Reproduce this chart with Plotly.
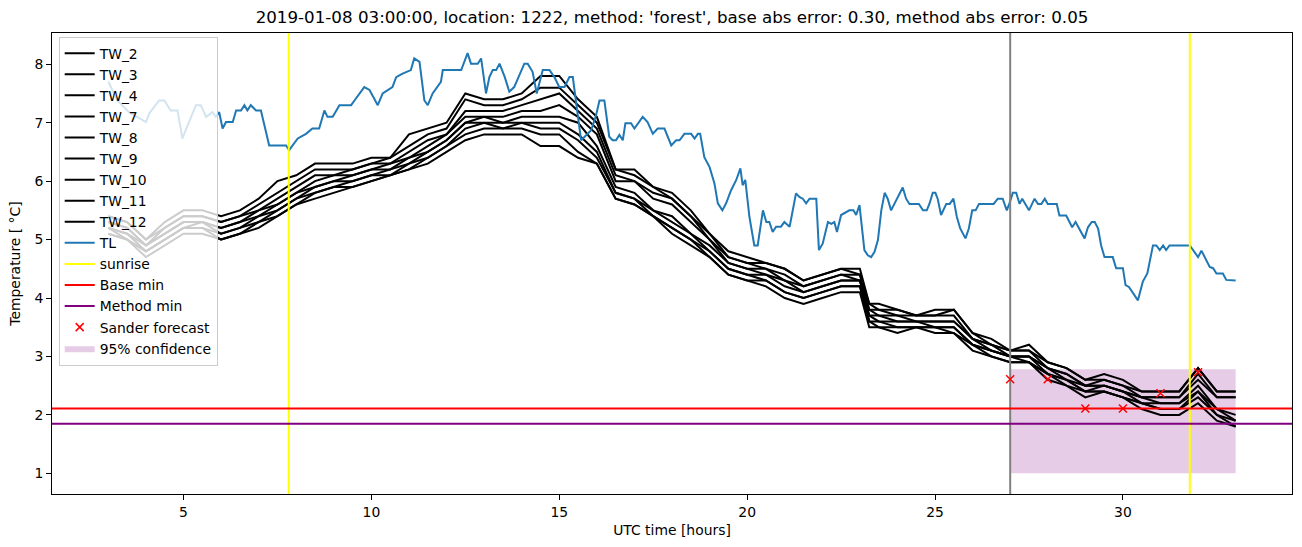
import plotly.graph_objects as go

# ---------------- data ----------------
tw_hours = [3.0, 3.5, 4.0, 4.5, 5.0, 5.5, 6.0, 6.5, 7.0, 7.5, 8.0, 8.5, 9.0, 9.5, 10.0,
            10.5, 11.0, 11.5, 12.0, 12.5, 13.0, 13.5, 14.0, 14.5, 15.0, 15.5, 16.0, 16.5,
            17.0, 17.5, 18.0, 18.5, 19.0, 19.5, 20.0, 20.5, 21.0, 21.5, 22.0, 22.5, 23.0,
            23.25, 23.5, 24.0, 24.5, 25.0, 25.5, 26.0, 26.5, 27.0, 27.5, 28.0, 28.5, 29.0, 29.5,
            30.0, 30.5, 31.0, 31.5, 32.0, 32.5, 33.0]

tw_2 = [5.4, 5.3, 5.0, 5.3, 5.5, 5.5, 5.4, 5.5, 5.7, 6.0, 6.1, 6.3, 6.3, 6.3, 6.4, 6.4, 6.8, 6.9, 7.0, 7.5,
        7.4, 7.4, 7.5, 7.8, 7.8, 7.4, 7.1, 6.2, 6.2, 5.9, 5.8, 5.5, 5.1, 4.8, 4.7, 4.6, 4.5, 4.3, 4.4, 4.5,
        4.5, 3.9, 3.9, 3.8, 3.7, 3.8, 3.8, 3.4, 3.3, 3.1, 3.2, 2.9, 2.8, 2.6, 2.7, 2.6, 2.4, 2.4, 2.4, 2.8, 2.4, 2.4]
tw_3 = [5.4, 5.3, 5.0, 5.2, 5.4, 5.4, 5.3, 5.4, 5.6, 5.8, 6.0, 6.2, 6.2, 6.2, 6.3, 6.4, 6.6, 6.8, 6.9, 7.4,
        7.3, 7.3, 7.4, 7.6, 7.6, 7.3, 7.0, 6.2, 6.1, 5.9, 5.7, 5.4, 5.1, 4.7, 4.6, 4.6, 4.5, 4.3, 4.4, 4.5,
        4.4, 3.9, 3.8, 3.8, 3.7, 3.7, 3.8, 3.4, 3.2, 3.1, 3.1, 2.9, 2.8, 2.6, 2.6, 2.5, 2.4, 2.4, 2.4, 2.8, 2.4, 2.4]
tw_4 = [5.3, 5.2, 4.9, 5.2, 5.4, 5.4, 5.3, 5.4, 5.5, 5.7, 5.9, 6.1, 6.1, 6.2, 6.3, 6.3, 6.5, 6.7, 6.8, 7.2,
        7.2, 7.2, 7.3, 7.4, 7.5, 7.2, 6.9, 6.1, 6.0, 5.8, 5.7, 5.4, 5.0, 4.7, 4.6, 4.5, 4.4, 4.2, 4.3, 4.4,
        4.4, 3.8, 3.8, 3.7, 3.7, 3.7, 3.7, 3.3, 3.2, 3.1, 3.1, 2.8, 2.7, 2.5, 2.6, 2.5, 2.3, 2.3, 2.3, 2.7, 2.3, 2.3]
tw_7 = [5.3, 5.2, 4.9, 5.1, 5.3, 5.3, 5.2, 5.3, 5.5, 5.6, 5.8, 6.0, 6.1, 6.1, 6.2, 6.3, 6.4, 6.6, 6.8, 7.1,
        7.1, 7.1, 7.2, 7.2, 7.3, 7.1, 6.8, 6.0, 6.0, 5.7, 5.6, 5.3, 5.0, 4.6, 4.5, 4.5, 4.3, 4.2, 4.3, 4.4,
        4.3, 3.8, 3.7, 3.7, 3.6, 3.6, 3.6, 3.3, 3.2, 3.0, 3.0, 2.8, 2.7, 2.5, 2.5, 2.4, 2.3, 2.3, 2.3, 2.6, 2.3, 2.3]
tw_8 = [5.2, 5.1, 4.9, 5.1, 5.3, 5.3, 5.2, 5.3, 5.4, 5.6, 5.8, 5.9, 6.0, 6.1, 6.2, 6.2, 6.4, 6.5, 6.7, 7.0,
        7.1, 7.0, 7.1, 7.1, 7.1, 7.0, 6.6, 5.9, 5.8, 5.5, 5.4, 5.1, 4.9, 4.6, 4.5, 4.4, 4.3, 4.1, 4.2, 4.3,
        4.3, 3.7, 3.7, 3.6, 3.6, 3.6, 3.6, 3.3, 3.1, 3.0, 3.0, 2.8, 2.6, 2.5, 2.5, 2.4, 2.3, 2.2, 2.2, 2.5, 2.1, 2.0]
tw_9 = [5.2, 5.1, 4.8, 5.0, 5.2, 5.3, 5.1, 5.2, 5.4, 5.5, 5.7, 5.9, 6.0, 6.0, 6.1, 6.2, 6.3, 6.5, 6.7, 7.0,
        7.0, 7.0, 7.0, 7.0, 7.0, 6.8, 6.5, 5.8, 5.7, 5.5, 5.3, 5.1, 4.8, 4.5, 4.4, 4.4, 4.2, 4.1, 4.2, 4.3,
        4.3, 3.7, 3.6, 3.6, 3.6, 3.5, 3.5, 3.2, 3.1, 3.0, 3.0, 2.7, 2.6, 2.4, 2.5, 2.4, 2.2, 2.2, 2.2, 2.4, 2.1, 1.9]
tw_10 = [5.2, 5.0, 4.8, 5.0, 5.2, 5.2, 5.1, 5.2, 5.3, 5.5, 5.7, 5.8, 5.9, 6.0, 6.1, 6.1, 6.3, 6.4, 6.6, 6.9,
         7.0, 6.9, 7.0, 6.9, 6.9, 6.7, 6.4, 5.8, 5.7, 5.4, 5.2, 5.0, 4.8, 4.5, 4.4, 4.3, 4.1, 4.0, 4.1, 4.2,
         4.2, 3.6, 3.6, 3.5, 3.5, 3.5, 3.5, 3.2, 3.1, 3.0, 2.9, 2.7, 2.6, 2.4, 2.4, 2.3, 2.2, 2.1, 2.1, 2.4, 2.0, 1.9]
tw_11 = [5.1, 5.0, 4.8, 5.0, 5.2, 5.2, 5.0, 5.1, 5.3, 5.4, 5.6, 5.8, 5.9, 5.9, 6.0, 6.1, 6.2, 6.4, 6.6, 6.8,
         6.9, 6.9, 6.9, 6.8, 6.8, 6.5, 6.3, 5.7, 5.6, 5.4, 5.2, 5.0, 4.7, 4.4, 4.3, 4.3, 4.1, 4.0, 4.1, 4.2,
         4.2, 3.6, 3.5, 3.5, 3.5, 3.5, 3.4, 3.2, 3.0, 2.9, 2.9, 2.7, 2.5, 2.4, 2.4, 2.3, 2.2, 2.1, 2.1, 2.3, 2.0, 1.8]
tw_12 = [5.1, 5.0, 4.7, 4.9, 5.1, 5.1, 5.0, 5.1, 5.2, 5.4, 5.6, 5.7, 5.8, 5.9, 6.0, 6.1, 6.2, 6.3, 6.5, 6.7,
         6.8, 6.8, 6.8, 6.6, 6.6, 6.4, 6.3, 5.7, 5.6, 5.4, 5.1, 4.9, 4.7, 4.4, 4.3, 4.2, 4.0, 3.9, 4.0, 4.1,
         4.1, 3.5, 3.5, 3.4, 3.5, 3.4, 3.4, 3.1, 3.0, 2.9, 2.9, 2.6, 2.5, 2.3, 2.4, 2.3, 2.1, 2.0, 2.0, 2.2, 1.9, 1.8]

tw_names = ["TW_2", "TW_3", "TW_4", "TW_7", "TW_8", "TW_9", "TW_10", "TW_11", "TW_12"]
tw_series = [tw_2, tw_3, tw_4, tw_7, tw_8, tw_9, tw_10, tw_11, tw_12]

tl_hours = [3.00, 3.24, 3.55, 4.00, 4.09, 4.35, 4.49, 4.66, 4.84, 4.97, 5.33, 5.46, 5.60, 5.77, 5.86,
            5.95, 6.04, 6.13, 6.31, 6.40, 6.53, 6.62, 6.70, 6.79, 6.93, 7.06, 7.28, 7.73, 7.81, 8.04,
            8.26, 8.43, 8.61, 8.75, 8.83, 8.97, 9.15, 9.46, 9.55, 9.81, 9.95, 10.17, 10.30, 10.56,
            10.66, 10.83, 11.05, 11.14, 11.28, 11.41, 11.50, 11.63, 11.85, 11.90, 12.39, 12.56, 12.65,
            12.83, 12.92, 13.05, 13.14, 13.23, 13.32, 13.41, 13.55, 13.67, 13.80, 14.07, 14.16, 14.29,
            14.40, 14.56, 14.74, 14.87, 15.00, 15.14, 15.27, 15.36, 15.58, 15.71, 15.85, 15.98, 16.07,
            16.20, 16.33, 16.42, 16.51, 16.60, 16.69, 16.76, 16.91, 17.00, 17.09, 17.22, 17.35, 17.49,
            17.62, 17.80, 17.98, 18.11, 18.20, 18.33, 18.51, 18.60, 18.69, 18.75, 18.86, 19.00, 19.13,
            19.22, 19.34, 19.44, 19.57, 19.71, 19.82, 19.88, 19.95, 20.06, 20.15, 20.19, 20.28, 20.42,
            20.51, 20.59, 20.68, 20.77, 20.90, 20.99, 21.13, 21.30, 21.39, 21.48, 21.57, 21.66, 21.84,
            21.91, 22.01, 22.15, 22.24, 22.32, 22.39, 22.50, 22.72, 22.83, 22.90, 22.99, 23.12, 23.21,
            23.30, 23.39, 23.48, 23.57, 23.66, 23.74, 23.83, 23.92, 24.14, 24.23, 24.32, 24.57, 24.68,
            24.78, 24.85, 24.94, 25.01, 25.07, 25.16, 25.30, 25.39, 25.49, 25.58, 25.67, 25.81, 25.90,
            25.99, 26.08, 26.17, 26.56, 26.67, 26.80, 26.91, 26.98, 27.07, 27.16, 27.25, 27.32, 27.50,
            27.65, 27.74, 27.83, 27.92, 28.00, 28.24, 28.31, 28.49, 28.65, 28.74, 28.98, 29.07, 29.17,
            29.25, 29.34, 29.42, 29.51, 29.73, 29.82, 30.00, 30.07, 30.16, 30.40, 30.53, 30.65, 30.80,
            30.89, 30.98, 31.07, 31.15, 31.24, 31.78, 32.00, 32.09, 32.31, 32.40, 32.49, 32.66, 32.75,
            32.93, 33.00]
tl_values = [7.70, 7.38, 7.18, 7.01, 7.16, 7.38, 7.38, 7.21, 7.21, 6.73, 7.30, 7.30, 7.10, 7.18, 7.10,
             7.18, 6.90, 7.01, 7.01, 7.21, 7.21, 7.30, 7.21, 7.30, 7.21, 7.21, 6.61, 6.61, 6.53, 6.73,
             6.81, 6.90, 6.90, 7.21, 7.10, 7.10, 7.30, 7.30, 7.38, 7.61, 7.56, 7.30, 7.50, 7.61,
             7.78, 7.84, 7.90, 8.10, 8.04, 7.38, 7.30, 7.50, 7.70, 7.90, 7.90, 8.19, 8.01,
             8.01, 8.10, 7.50, 7.78, 7.90, 7.90, 8.01, 7.78, 7.53, 7.61, 8.01, 8.01, 7.87,
             7.50, 7.90, 7.90, 7.78, 7.61, 7.61, 7.78, 7.78, 6.70, 6.79, 6.87, 7.13, 7.38,
             7.38, 6.76, 6.70, 6.70, 6.79, 6.70, 6.99, 6.99, 6.90, 6.99, 7.10, 7.01, 6.81,
             6.90, 6.90, 6.61, 6.70, 6.70, 6.81, 6.81, 6.73, 6.81, 6.81, 6.41, 6.24, 5.96,
             5.62, 5.50, 5.62, 5.84, 6.02, 6.22, 5.93, 6.02, 5.39, 5.05, 4.90, 4.90, 5.50,
             5.30, 5.30, 5.13, 5.22, 5.22, 5.30, 5.22, 5.79, 5.73, 5.70, 5.62, 5.70, 5.70,
             4.82, 4.93, 5.30, 5.27, 5.30, 5.13, 5.42, 5.50, 5.50, 5.42, 5.59, 4.82, 4.73,
             4.70, 4.79, 4.99, 5.50, 5.80, 5.70, 5.50, 5.62, 5.89, 5.70, 5.61, 5.61, 5.50,
             5.50, 5.61, 5.80, 5.80, 5.70, 5.42, 5.61, 5.61, 5.70, 5.39, 5.19, 5.02, 5.19,
             5.50, 5.50, 5.61, 5.61, 5.70, 5.70, 5.50, 5.62, 5.80, 5.80, 5.61, 5.70, 5.50,
             5.70, 5.61, 5.61, 5.70, 5.61, 5.61, 5.41, 5.41, 5.21, 5.30, 5.02, 5.21, 5.30,
             5.30, 5.19, 4.90, 4.70, 4.70, 4.51, 4.51, 4.22, 4.19, 3.96, 4.28, 4.42, 4.90,
             4.90, 4.82, 4.90, 4.82, 4.90, 4.90, 4.70, 4.81, 4.53, 4.51, 4.42, 4.42, 4.31,
             4.31, 4.30]

sunrise_hours = [7.8, 31.78]
forecast_start_hour = 27.0
base_min = 2.11
method_min = 1.85
sander_hours = [27, 28, 29, 30, 31, 32]
sander_values = [2.61, 2.61, 2.11, 2.11, 2.37, 2.73]
conf_hours = [27.0, 33.0]
conf_low = 1.0
conf_high = 2.78

title_text = ("2019-01-08 03:00:00, location: 1222, method: 'forest', "
              "base abs error: 0.30, method abs error: 0.05")

X_RANGE = [1.5, 34.5]
Y_RANGE = [0.646, 8.535]

# ---------------- figure ----------------
fig = go.Figure()

fig.add_trace(go.Scatter(
    x=[conf_hours[0], conf_hours[1], conf_hours[1], conf_hours[0], conf_hours[0]],
    y=[conf_low, conf_low, conf_high, conf_high, conf_low],
    fill="toself", fillcolor="rgba(128,0,128,0.2)", mode="lines",
    line=dict(width=0, color="rgba(128,0,128,0.2)"),
    name="95% confidence", legendrank=15, hoverinfo="skip"))

for i, (nm, ser) in enumerate(zip(tw_names, tw_series)):
    fig.add_trace(go.Scatter(x=tw_hours, y=ser, mode="lines", name=nm,
                             line=dict(color="black", width=2), legendrank=i + 1))

fig.add_trace(go.Scatter(x=tl_hours, y=tl_values, mode="lines", name="TL",
                         line=dict(color="#1f77b4", width=2), legendrank=10))

for j, sh in enumerate(sunrise_hours):
    fig.add_trace(go.Scatter(x=[sh, sh], y=Y_RANGE, mode="lines", name="sunrise",
                             line=dict(color="yellow", width=2), showlegend=(j == 0),
                             legendrank=11))

fig.add_trace(go.Scatter(x=[forecast_start_hour, forecast_start_hour], y=Y_RANGE,
                         mode="lines", line=dict(color="gray", width=2),
                         showlegend=False))

fig.add_trace(go.Scatter(x=X_RANGE, y=[base_min, base_min], mode="lines", name="Base min",
                         line=dict(color="red", width=2), legendrank=12))
fig.add_trace(go.Scatter(x=X_RANGE, y=[method_min, method_min], mode="lines",
                         name="Method min", line=dict(color="purple", width=2), legendrank=13))

fig.add_trace(go.Scatter(x=sander_hours, y=sander_values, mode="markers",
                         name="Sander forecast",
                         marker=dict(symbol="x-thin", size=8, color="red",
                                     line=dict(color="red", width=1.5)),
                         legendrank=14))

font_family = "DejaVu Sans"
fig.update_layout(
    width=1302, height=547,
    margin=dict(l=52, r=10, t=33, b=53),
    paper_bgcolor="white", plot_bgcolor="white",
    font=dict(family=font_family, size=13.9, color="black"),
    title=dict(text=title_text, x=0.5, xref="paper", xanchor="center",
               y=1 - 17 / 547, yref="container", yanchor="middle",
               font=dict(size=16.7, family=font_family, color="black")),
    showlegend=True,
    legend=dict(x=0.0054, y=0.992, xanchor="left", yanchor="top",
                bgcolor="rgba(255,255,255,0.8)", bordercolor="#cccccc", borderwidth=1,
                font=dict(size=13.9, family=font_family), traceorder="normal",
                itemwidth=30),
    xaxis=dict(range=X_RANGE, showgrid=False, zeroline=False, showline=True,
               linecolor="black", linewidth=1, mirror=True, ticks="outside",
               ticklen=5, tickwidth=1, tickcolor="black", tickvals=[5, 10, 15, 20, 25, 30],
               tickfont=dict(size=13.9),
               title=dict(text="UTC time [hours]", standoff=6,
                          font=dict(size=13.9, family=font_family))),
    yaxis=dict(range=Y_RANGE, showgrid=False, zeroline=False, showline=True,
               linecolor="black", linewidth=1, mirror=True, ticks="outside",
               ticklen=5, tickwidth=1, tickcolor="black",
               tickvals=[1, 2, 3, 4, 5, 6, 7, 8], tickfont=dict(size=13.9),
               title=dict(text="Temperature [ °C]", standoff=10,
                          font=dict(size=13.9, family=font_family))),
)

fig.write_html("out.html")
